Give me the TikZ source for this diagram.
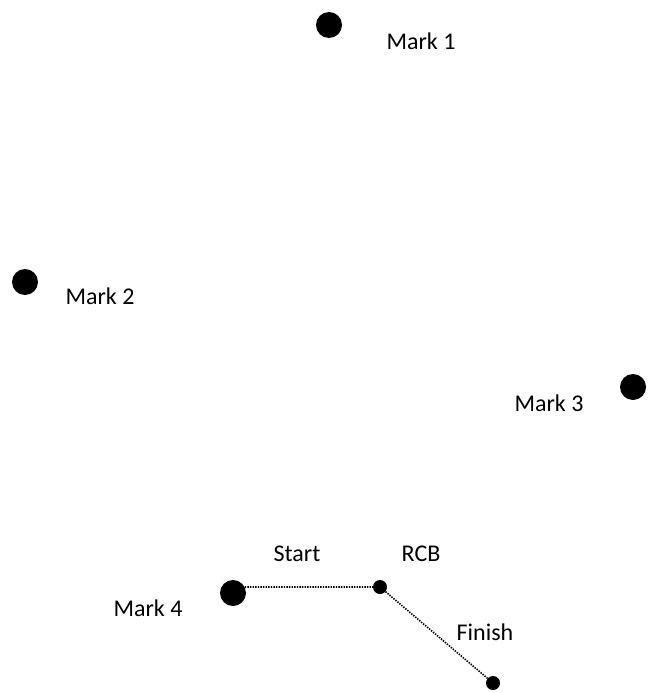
\documentclass[tikz,border=0pt]{standalone}
\usepackage{fontspec}
\setmainfont{Carlito}

\begin{document}
\begin{tikzpicture}[x=1pt,y=-1pt,
    markdot/.style={circle,fill=black,inner sep=0pt,minimum size=26pt},
    pathdot/.style={circle,fill=black,inner sep=0pt,minimum size=14pt},
    lbl/.style={inner sep=0pt,font=\fontsize{24}{28}\selectfont},
    route/.style={line width=1.6pt,dash pattern=on 1.4pt off 1.2pt}]
    \useasboundingbox (0,0) rectangle (653,693);

    % marks
    \node[markdot] (mark1) at (329,25) {};
    \node[markdot] (mark2) at (25,282) {};
    \node[markdot] (mark3) at (633,387) {};
    \node[markdot] (mark4) at (233,593) {};

    \node[lbl] (lab1) at (421,41) {Mark 1};
    \node[lbl] (lab2) at (100,296) {Mark 2};
    \node[lbl] (lab3) at (549,403) {Mark 3};
    \node[lbl] (lab4) at (148,608) {Mark 4};

    % course
    \node[pathdot] (rcb) at (380,587) {};
    \node[pathdot] (finish) at (493,683) {};

    \node[lbl] (labstart) at (297,554) {Start};
    \node[lbl] (labrcb) at (421,554) {RCB};
    \node[lbl] (labfinish) at (485,632) {Finish};

    \draw[route] (mark4.27) -- (rcb) -- (finish);
\end{tikzpicture}
\end{document}
